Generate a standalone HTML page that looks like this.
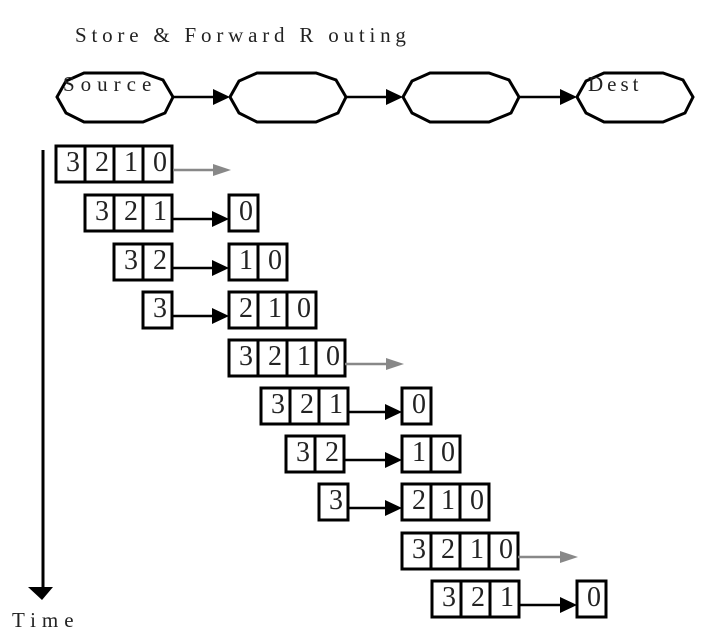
<!DOCTYPE html>
<html><head><meta charset="utf-8"><style>
html,body{margin:0;padding:0;background:#fff;}
svg{display:block;}
text{font-family:"Liberation Serif","DejaVu Serif",serif;fill:#222;}
.d{font-size:28px;text-anchor:middle;}
.c rect{fill:#fff;stroke:#000;stroke-width:3;width:29px;height:36px;}
</style></head><body>
<svg width="704" height="644" viewBox="0 0 704 644" xmlns="http://www.w3.org/2000/svg">
<defs>
<polygon id="oct" points="0,25 9,9 27,1 86,1 106,8 116,25 108,41 86,50 27,50 9,41" fill="#fff" stroke="#000" stroke-width="3"/>
</defs>
<text x="75" y="42" font-size="21" letter-spacing="4.8">Store &amp; Forward R outing</text>
<use href="#oct" x="57" y="72"/>
<use href="#oct" x="230" y="72"/>
<use href="#oct" x="403" y="72"/>
<use href="#oct" x="577" y="72"/>
<text x="63" y="91" font-size="21" letter-spacing="6">Source</text>
<text x="588" y="91" font-size="21" letter-spacing="4">Dest</text>
<g stroke="#000" stroke-width="2.5">
<line x1="173" y1="97" x2="215" y2="97"/><line x1="347" y1="97" x2="388" y2="97"/><line x1="520" y1="97" x2="562" y2="97"/>
</g>
<g fill="#000">
<polygon points="213,89 230,97 213,105"/><polygon points="386,89 403,97 386,105"/><polygon points="560,89 577,97 560,105"/>
</g>
<line x1="43" y1="150" x2="43" y2="590" stroke="#000" stroke-width="3"/>
<polygon points="28,587 53,587 42,600" fill="#000"/>
<text x="12" y="627" font-size="21" letter-spacing="6">Time</text>

<g class="c">
<rect x="56" y="146"/><rect x="85" y="146"/><rect x="114" y="146"/><rect x="143" y="146"/>
<rect x="85" y="195"/><rect x="114" y="195"/><rect x="143" y="195"/><rect x="229" y="195"/>
<rect x="114" y="244"/><rect x="143" y="244"/><rect x="229" y="244"/><rect x="258" y="244"/>
<rect x="143" y="292"/><rect x="229" y="292"/><rect x="258" y="292"/><rect x="287" y="292"/>
<rect x="229" y="340"/><rect x="258" y="340"/><rect x="287" y="340"/><rect x="316" y="340"/>
<rect x="261" y="388"/><rect x="290" y="388"/><rect x="319" y="388"/><rect x="402" y="388"/>
<rect x="286" y="436"/><rect x="315" y="436"/><rect x="402" y="436"/><rect x="431" y="436"/>
<rect x="319" y="484"/><rect x="402" y="484"/><rect x="431" y="484"/><rect x="460" y="484"/>
<rect x="402" y="533"/><rect x="431" y="533"/><rect x="460" y="533"/><rect x="489" y="533"/>
<rect x="432" y="581"/><rect x="461" y="581"/><rect x="490" y="581"/><rect x="577" y="581"/>
</g>
<g>
<text class="d" x="73" y="171">3</text><text class="d" x="102" y="171">2</text><text class="d" x="131" y="171">1</text><text class="d" x="160" y="171">0</text>
<text class="d" x="102" y="220">3</text><text class="d" x="131" y="220">2</text><text class="d" x="160" y="220">1</text><text class="d" x="246" y="220">0</text>
<text class="d" x="131" y="269">3</text><text class="d" x="160" y="269">2</text><text class="d" x="246" y="269">1</text><text class="d" x="275" y="269">0</text>
<text class="d" x="160" y="317">3</text><text class="d" x="246" y="317">2</text><text class="d" x="275" y="317">1</text><text class="d" x="304" y="317">0</text>
<text class="d" x="246" y="365">3</text><text class="d" x="275" y="365">2</text><text class="d" x="304" y="365">1</text><text class="d" x="333" y="365">0</text>
<text class="d" x="278" y="413">3</text><text class="d" x="307" y="413">2</text><text class="d" x="336" y="413">1</text><text class="d" x="419" y="413">0</text>
<text class="d" x="303" y="461">3</text><text class="d" x="332" y="461">2</text><text class="d" x="419" y="461">1</text><text class="d" x="448" y="461">0</text>
<text class="d" x="336" y="509">3</text><text class="d" x="419" y="509">2</text><text class="d" x="448" y="509">1</text><text class="d" x="477" y="509">0</text>
<text class="d" x="419" y="558">3</text><text class="d" x="448" y="558">2</text><text class="d" x="477" y="558">1</text><text class="d" x="506" y="558">0</text>
<text class="d" x="449" y="606">3</text><text class="d" x="478" y="606">2</text><text class="d" x="507" y="606">1</text><text class="d" x="594" y="606">0</text>
</g>
<g stroke="#888" stroke-width="2.5">
<line x1="173" y1="170" x2="217" y2="170"/><line x1="345" y1="364" x2="390" y2="364"/><line x1="518" y1="557" x2="564" y2="557"/>
</g>
<g fill="#888">
<polygon points="213,164 231,170 213,176"/><polygon points="386,358 404,364 386,370"/><polygon points="560,551 578,557 560,563"/>
</g>
<g stroke="#000" stroke-width="2.5">
<line x1="173" y1="219" x2="215" y2="219"/><line x1="173" y1="268" x2="215" y2="268"/><line x1="172" y1="316" x2="215" y2="316"/>
<line x1="348" y1="412" x2="388" y2="412"/><line x1="344" y1="460" x2="388" y2="460"/><line x1="348" y1="508" x2="388" y2="508"/>
<line x1="519" y1="605" x2="563" y2="605"/>
</g>
<g fill="#000">
<polygon points="212,211 229,219 212,227"/><polygon points="212,260 229,268 212,276"/><polygon points="212,308 229,316 212,324"/>
<polygon points="385,404 402,412 385,420"/><polygon points="385,452 402,460 385,468"/><polygon points="385,500 402,508 385,516"/>
<polygon points="560,597 577,605 560,613"/>
</g>
</svg>
</body></html>
